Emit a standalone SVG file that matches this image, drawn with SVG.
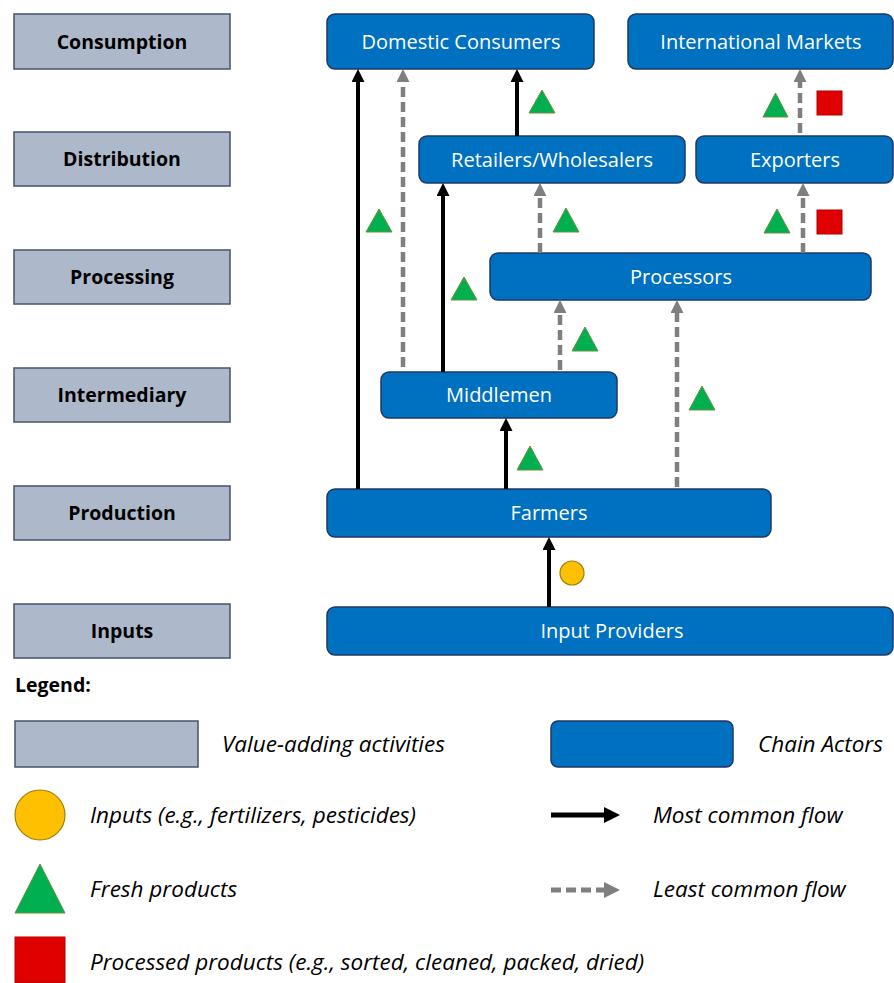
<svg xmlns="http://www.w3.org/2000/svg" width="894" height="983" viewBox="0 0 894 983">
<style>
.act{fill:#ADB9CA;stroke:#44546A;stroke-width:1.5}
.actor{fill:#0070C0;stroke:#1F3864;stroke-width:1.5}
.actt{font-family:"Open Sans","Noto Sans",sans-serif;font-weight:bold;font-size:19.5px;fill:#000;text-anchor:middle}
.nt{font-family:"Open Sans","Noto Sans",sans-serif;font-size:20px;fill:#fff;text-anchor:middle}
.lg{font-family:"Open Sans","Noto Sans",sans-serif;font-style:italic;font-size:22.5px;fill:#000}
.solid{stroke:#000;stroke-width:4;fill:none;marker-end:url(#ab)}
.dash{stroke:#7F7F7F;stroke-width:4.5;fill:none;stroke-dasharray:10 5;marker-end:url(#ag)}
.lsolid{stroke:#000;stroke-width:5;fill:none;marker-end:url(#ab2)}
.ldash{stroke:#7F7F7F;stroke-width:5;fill:none;stroke-dasharray:10 5;marker-end:url(#ag2)}
.tri{fill:#00B050;stroke:#6F8F3A;stroke-width:1}
.sq{fill:#E00000;stroke:#B00000;stroke-width:1}
.circ{fill:#FFC000;stroke:#A07F10;stroke-width:1.2}
</style>
<defs>
<marker id="ab" markerUnits="userSpaceOnUse" markerWidth="13" markerHeight="13" refX="0" refY="6.5" orient="auto" viewBox="0 0 13 13"><path d="M0,0 L13,6.5 L0,13 z" fill="#000"/></marker>
<marker id="ag" markerUnits="userSpaceOnUse" markerWidth="13" markerHeight="13" refX="0" refY="6.5" orient="auto" viewBox="0 0 13 13"><path d="M0,0 L13,6.5 L0,13 z" fill="#7F7F7F"/></marker>
<marker id="ab2" markerUnits="userSpaceOnUse" markerWidth="16" markerHeight="16" refX="0" refY="8" orient="auto" viewBox="0 0 16 16"><path d="M0,0 L16,8 L0,16 z" fill="#000"/></marker>
<marker id="ag2" markerUnits="userSpaceOnUse" markerWidth="16" markerHeight="16" refX="0" refY="8" orient="auto" viewBox="0 0 16 16"><path d="M0,0 L16,8 L0,16 z" fill="#7F7F7F"/></marker>
</defs>

<g id="act-consumption"><rect class="act" x="14" y="14" width="216" height="55"/><text class="actt" x="122" y="49">Consumption</text></g>
<g id="act-distribution"><rect class="act" x="14" y="132" width="216" height="54"/><text class="actt" x="122" y="166">Distribution</text></g>
<g id="act-processing"><rect class="act" x="14" y="250" width="216" height="54"/><text class="actt" x="122" y="284">Processing</text></g>
<g id="act-intermediary"><rect class="act" x="14" y="368" width="216" height="54"/><text class="actt" x="122" y="402">Intermediary</text></g>
<g id="act-production"><rect class="act" x="14" y="486" width="216" height="54"/><text class="actt" x="122" y="520">Production</text></g>
<g id="act-inputs"><rect class="act" x="14" y="604" width="216" height="54"/><text class="actt" x="122" y="638">Inputs</text></g>

<g id="domestic-consumers"><rect class="actor" x="327" y="14" width="267" height="55" rx="8"/><text class="nt" x="461" y="49">Domestic Consumers</text></g>
<g id="international-markets"><rect class="actor" x="628" y="14" width="265" height="55" rx="8"/><text class="nt" x="761" y="49">International Markets</text></g>
<g id="retailers"><rect class="actor" x="419" y="136" width="266" height="47" rx="8"/><text class="nt" x="552" y="167">Retailers/Wholesalers</text></g>
<g id="exporters"><rect class="actor" x="696" y="136" width="197" height="47" rx="8"/><text class="nt" x="795" y="167">Exporters</text></g>
<g id="processors"><rect class="actor" x="490" y="253" width="381" height="47" rx="8"/><text class="nt" x="681" y="284">Processors</text></g>
<g id="middlemen"><rect class="actor" x="381" y="372" width="236" height="46" rx="8"/><text class="nt" x="499" y="402">Middlemen</text></g>
<g id="farmers"><rect class="actor" x="327" y="489" width="444" height="48" rx="8"/><text class="nt" x="549" y="520">Farmers</text></g>
<g id="input-providers"><rect class="actor" x="327" y="607" width="566" height="48" rx="8"/><text class="nt" x="612" y="638">Input Providers</text></g>

<g id="connectors">
<line class="solid" x1="358" y1="489" x2="358" y2="82"/>
<line class="dash" x1="403" y1="367" x2="403" y2="82"/>
<line class="solid" x1="517" y1="136" x2="517" y2="82"/>
<line class="dash" x1="800" y1="133" x2="800" y2="82"/>
<line class="solid" x1="443" y1="372" x2="443" y2="196"/>
<line class="dash" x1="540" y1="253" x2="540" y2="196"/>
<line class="dash" x1="803" y1="253" x2="803" y2="196"/>
<line class="dash" x1="560" y1="370" x2="560" y2="313"/>
<line class="dash" x1="677" y1="487" x2="677" y2="313"/>
<line class="solid" x1="506" y1="489" x2="506" y2="431"/>
<line class="solid" x1="549" y1="607" x2="549" y2="550"/>
</g>

<g id="markers">
<polygon class="tri" points="542,90 555,113 529,113"/>
<polygon class="tri" points="775.5,93 788,117 763,117"/>
<rect class="sq" x="817" y="91" width="25" height="24"/>
<polygon class="tri" points="379,209 392,232 366,232"/>
<polygon class="tri" points="566,208 579,232 553,232"/>
<polygon class="tri" points="777,209 790,233 764,233"/>
<rect class="sq" x="817" y="210" width="25" height="24"/>
<polygon class="tri" points="464,277 477,300 451,300"/>
<polygon class="tri" points="585,327 598,351 572,351"/>
<polygon class="tri" points="702,386 715,410 689,410"/>
<polygon class="tri" points="530,446 543,470 517,470"/>
<circle class="circ" cx="572" cy="573" r="12"/>
</g>

<g id="legend">
<text x="15" y="692" font-family="'Open Sans','Noto Sans',sans-serif" font-weight="bold" font-size="19.5" fill="#000">Legend:</text>
<rect class="act" x="15" y="721" width="183" height="46"/>
<text class="lg" x="222" y="752">Value-adding activities</text>
<rect class="actor" x="551" y="721" width="182" height="46" rx="7"/>
<text class="lg" x="758" y="752">Chain Actors</text>
<circle class="circ" cx="40" cy="815" r="25"/>
<text class="lg" x="90" y="823">Inputs (e.g., fertilizers, pesticides)</text>
<line class="lsolid" x1="551" y1="815" x2="604" y2="815"/>
<text class="lg" x="653" y="823">Most common flow</text>
<polygon class="tri" points="40,864 65,913 15,913"/>
<text class="lg" x="90" y="897">Fresh products</text>
<line class="ldash" x1="551" y1="890" x2="604" y2="890"/>
<text class="lg" x="653" y="897">Least common flow</text>
<rect class="sq" x="15" y="937" width="50" height="46"/>
<text class="lg" x="90" y="970">Processed products (e.g., sorted, cleaned, packed, dried)</text>
</g>
</svg>
